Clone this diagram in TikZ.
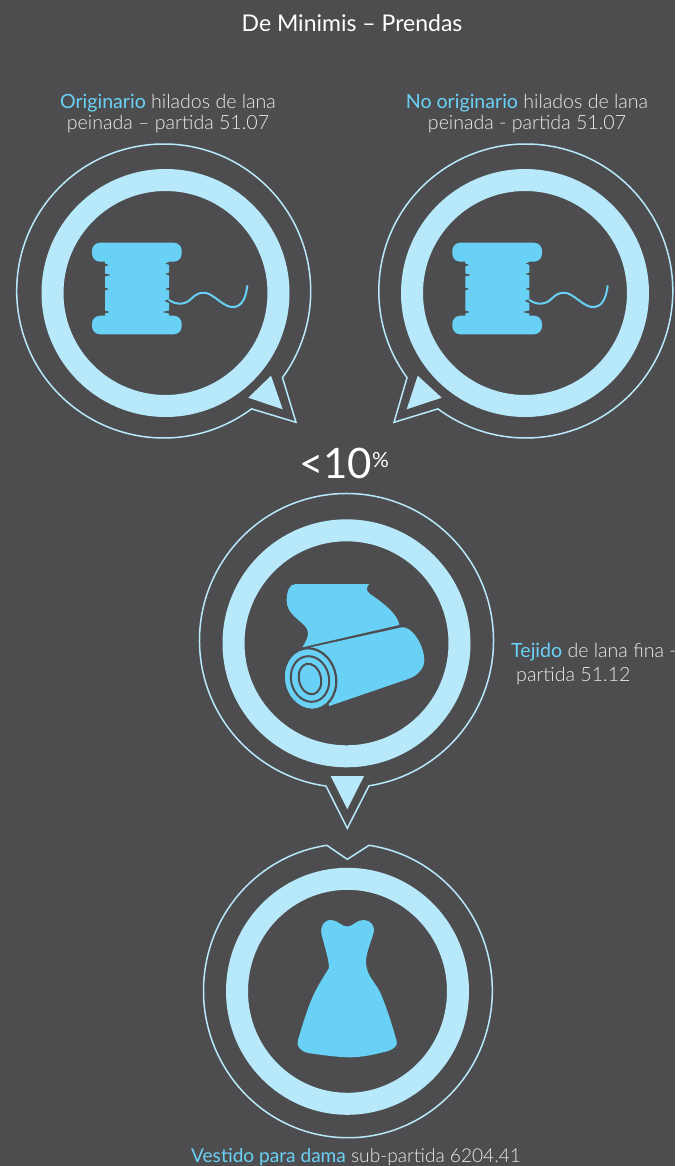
\documentclass[tikz,border=0pt]{standalone}
\usepackage{fontspec}
\setmainfont{Lato}[UprightFont=* Light,BoldFont=*]
\usepackage{xcolor}
\usetikzlibrary{positioning,shapes.geometric,calc}
\definecolor{slatebg}{HTML}{4D4D4F}
\definecolor{paleblue}{HTML}{B8E9FB}
\definecolor{skyblue}{HTML}{6AD1F6}
\definecolor{softwhite}{HTML}{ECECEC}
\newcommand{\hilite}[1]{{\color{skyblue}\textbf{#1}}}

\begin{document}
\begin{tikzpicture}[
    x=1pt, y=1pt,
    every node/.style={font=\fontsize{19.6}{21}\selectfont, text=softwhite, align=center, inner sep=0pt},
    ringbox/.style={ellipse, draw=paleblue, line width=22pt, minimum width=226pt, minimum height=226pt},
    bubble/.style={draw=paleblue, line width=1.5pt, line join=miter},
    pointer/.style={fill=paleblue},
    icon/.style={fill=skyblue},
    thread/.style={draw=skyblue, line width=2pt, line cap=round},
    spool/.pic={
      \path[icon, rounded corners=8pt] (92,-242.7) rectangle (181.7,-261.7);
      \path[icon, rounded corners=8pt] (92,-315.7) rectangle (181.7,-334.3);
      \path[icon] (105,-258) -- (169,-258) -- (169,-262) -- (165,-263.5) -- (169,-265) -- (169,-272.5) -- (165,-274) -- (169,-275.5)
        -- (169,-287.5) -- (165,-289) -- (169,-290.5) -- (169,-299) -- (164,-301) -- (169,-303) -- (169,-310.5) -- (162,-312) -- (169,-313.5) -- (169,-318)
        -- (105,-318) -- (105,-313.5) -- (110,-312) -- (105,-310.5) -- (105,-290.5) -- (109,-289) -- (105,-287.5) -- (105,-276.5) -- (111,-275) -- (105,-273.5)
        -- (105,-266.5) -- (109,-265) -- (105,-263.5) -- cycle;
      \draw[thread] (169,-300) .. controls (176,-305) and (185,-305) .. (191,-299)
        .. controls (196,-294) and (200,-292) .. (206,-293)
        .. controls (215,-295) and (224,-308) .. (234,-307)
        .. controls (243,-306) and (246,-296) .. (247.3,-286);
    }
  ]
    \path[fill=slatebg, use as bounding box] (0,0) rectangle (675,-1166);

    \node (title) at (352,-23) {\fontsize{23}{25}\selectfont\textcolor{white}{\textbf{De Minimis -- Prendas}}};

    % Top labels
    \node (origlabel) at (168,-114) {\hilite{Originario} hilados de lana\\peinada -- partida 51.07};
    \node (nolabel) at (527,-114) {\hilite{No originario} hilados de lana\\peinada - partida 51.07};

    % Rings
    \node[ringbox] (ringorig) at (165.5,-293) {};
    \node[ringbox] (ringno) at (525,-293) {};
    \node[ringbox] (ringfab) at (346.5,-643.3) {};
    \node[ringbox, minimum width=221pt, minimum height=225pt] (ringdress) at (347.5,-991.3) {};

    % Outlines
    \coordinate (outorig) at (163.7,-291);
    \coordinate (outno) at (525.8,-291);
    \coordinate (outfab) at (346.5,-640.5);
    \coordinate (tiporig) at (296,-422.3);
    \coordinate (tipno) at (394,-422.3);
    \coordinate (tipfab) at (347.3,-828.3);
    \coordinate (notch) at (347.3,-859.3);
    \draw[bubble] (tiporig) -- ($(outorig)+(-36.1:147)$) arc[start angle=-36.1, end angle=306.7, radius=147] -- cycle;
    \draw[bubble] (tipno) -- ($(outno)+(216.1:147)$) arc[start angle=216.1, end angle=-126.7, radius=147] -- cycle;
    \draw[bubble] (tipfab) -- ($(outfab)+(-81.2:147)$) arc[start angle=-81.2, end angle=262, radius=147] -- cycle;
    \draw[bubble] (notch) -- (369,-845.3) arc[start angle=81.6, end angle=-261.6, x radius=144.4, y radius=147] -- cycle;

    % Pointers
    \path[pointer] (271,-375.7) -- (282.7,-409.3) -- (248.3,-397.7) -- cycle;
    \path[pointer] (417.7,-375.7) -- (406.7,-409.3) -- (441.7,-397.7) -- cycle;
    \path[pointer] (330.7,-776) -- (364,-776) -- (347.3,-809.3) -- cycle;

    % Icons
    \pic at (0,0) {spool};
    \pic at (360.3,0) {spool};

    % Fabric roll
    \path[icon] (295.7,-584) -- (369.3,-584) .. controls (366,-587) and (366,-591) .. (370,-594)
      .. controls (382,-602) and (398,-614) .. (399.3,-625) -- (302.3,-647.3)
      .. controls (306,-642) and (310,-634) .. (307,-629) .. controls (303,-621) and (286,-615) .. (286.7,-600)
      .. controls (286.7,-592) and (289,-584) .. (295.7,-584) -- cycle;
    \path[icon] (310.7,-647.3) -- (401.7,-627.3) .. controls (412,-626) and (424,-645) .. (424.3,-660)
      .. controls (424.5,-668) and (418,-675) .. (410,-678.3) -- (329.3,-706) -- cycle;
    \draw[icon, draw=slatebg, line width=2.2pt, rotate around={13:(310,-679)}] (310,-679) ellipse[x radius=26, y radius=31];
    \draw[draw=slatebg, line width=2pt, rotate around={13:(310,-679)}] (310,-679) ellipse[x radius=19, y radius=23];
    \draw[draw=slatebg, line width=2pt, rotate around={13:(310,-679)}] (310,-679) ellipse[x radius=11, y radius=15.5];

    % Dress
    \path[icon] (347.3,-926.5) .. controls (353,-926.5) and (356,-920) .. (363.3,-920)
      .. controls (370,-920) and (375,-925) .. (373.7,-932) .. controls (372,-940) and (366,-952) .. (366,-962)
      .. controls (366,-975) and (375,-982) .. (380,-992) .. controls (387,-1008) and (392,-1025) .. (396.7,-1041)
      .. controls (398,-1048) and (390,-1051) .. (380,-1053) .. controls (368,-1056) and (358,-1057.3) .. (350,-1057.3)
      .. controls (338,-1057.3) and (322,-1055) .. (308,-1053) .. controls (300,-1051) and (296,-1046) .. (298,-1040)
      .. controls (303,-1023) and (309,-1003) .. (316,-990) .. controls (320,-982) and (326,-973) .. (329,-968)
      .. controls (329,-960) and (325,-948) .. (321.5,-934) .. controls (320,-926) and (324,-920) .. (331,-920)
      .. controls (338,-920) and (341,-926.5) .. (347.3,-926.5) -- cycle;

    % Lower labels
    \node (pct) at (344,-463) {\fontsize{42}{44}\selectfont\textcolor{white}{\textbf{<10\raisebox{11pt}{\fontsize{21}{21}\selectfont\%}}}};
    \node[anchor=west] (fablabel) at (511,-652) {\hilite{Tejido} de lana fina -};
    \node[anchor=west] (fablabelb) at (516,-676) {partida 51.12};
    \node (dresslabel) at (356,-1157) {\fontsize{19.1}{21}\selectfont\hilite{Vestido para dama} sub-partida 6204.41};
  \end{tikzpicture}
\end{document}
